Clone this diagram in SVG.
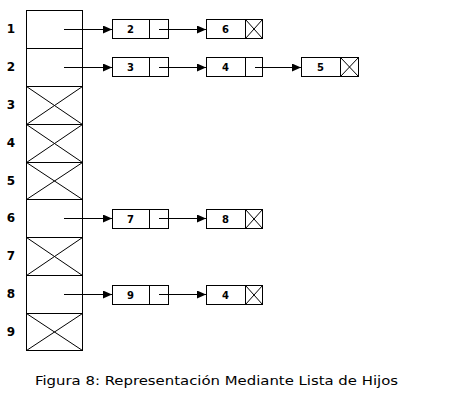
<svg xmlns="http://www.w3.org/2000/svg" width="461" height="406" viewBox="0 0 461 406">
<defs>
<marker id="ah" markerWidth="10" markerHeight="8" refX="9" refY="4" orient="auto" markerUnits="userSpaceOnUse">
<path d="M0,0 L9,4 L0,8 Z" fill="#000"/>
</marker>
<style>
.box{fill:#fff;stroke:#000;stroke-width:1}
.ln{stroke:#000;stroke-width:1;fill:none}
.conn{stroke:#000;stroke-width:1;fill:none;marker-end:url(#ah)}
.lbl{font-family:"DejaVu Sans",sans-serif;font-weight:bold;font-size:12px;fill:#000;text-anchor:middle;dominant-baseline:central}
.val{font-family:"DejaVu Sans",sans-serif;font-weight:bold;font-size:10px;fill:#000;text-anchor:middle;dominant-baseline:central}
.cap{font-family:"DejaVu Sans",sans-serif;font-size:13px;fill:#000}
</style>
</defs>
<rect width="461" height="406" fill="#fff"/>
<g id="array">
<rect class="box" x="26.5" y="10.5" width="56" height="340"/>
<path class="ln" d="M26.5,48.5H82.5M26.5,86.5H82.5M26.5,124.5H82.5M26.5,162.5H82.5M26.5,199.5H82.5M26.5,237.5H82.5M26.5,275.5H82.5M26.5,313.5H82.5"/>
<path class="ln" d="M26.5,86.5L82.5,124.5M82.5,86.5L26.5,124.5M26.5,124.5L82.5,162.5M82.5,124.5L26.5,162.5M26.5,162.5L82.5,199.5M82.5,162.5L26.5,199.5M26.5,237.5L82.5,275.5M82.5,237.5L26.5,275.5M26.5,313.5L82.5,350.5M82.5,313.5L26.5,350.5"/>
<text class="lbl" x="11" y="29">1</text>
<text class="lbl" x="11" y="67">2</text>
<text class="lbl" x="11" y="105">3</text>
<text class="lbl" x="11" y="143">4</text>
<text class="lbl" x="11" y="181">5</text>
<text class="lbl" x="11" y="218">6</text>
<text class="lbl" x="11" y="256">7</text>
<text class="lbl" x="11" y="294">8</text>
<text class="lbl" x="11" y="332">9</text>
</g>
<g id="n1a"><rect class="box" x="112.5" y="19.5" width="56" height="19"/><path class="ln" d="M149.5,19.5V38.5"/><text class="val" x="130.5" y="29">2</text></g>
<g id="n1b"><rect class="box" x="206.5" y="19.5" width="56" height="19"/><path class="ln" d="M245.5,19.5V38.5M245.5,19.5L262.5,38.5M262.5,19.5L245.5,38.5"/><text class="val" x="225.5" y="29">6</text></g>
<g id="n2a"><rect class="box" x="112.5" y="57.5" width="56" height="19"/><path class="ln" d="M149.5,57.5V76.5"/><text class="val" x="130.5" y="67">3</text></g>
<g id="n2b"><rect class="box" x="206.5" y="57.5" width="56" height="19"/><path class="ln" d="M245.5,57.5V76.5"/><text class="val" x="225.5" y="67">4</text></g>
<g id="n2c"><rect class="box" x="301.5" y="57.5" width="57" height="19"/><path class="ln" d="M340.5,57.5V76.5M340.5,57.5L358.5,76.5M358.5,57.5L340.5,76.5"/><text class="val" x="320.5" y="67">5</text></g>
<g id="n6a"><rect class="box" x="112.5" y="209.5" width="56" height="19"/><path class="ln" d="M149.5,209.5V228.5"/><text class="val" x="130.5" y="219">7</text></g>
<g id="n6b"><rect class="box" x="206.5" y="209.5" width="56" height="19"/><path class="ln" d="M245.5,209.5V228.5M245.5,209.5L262.5,228.5M262.5,209.5L245.5,228.5"/><text class="val" x="225.5" y="219">8</text></g>
<g id="n8a"><rect class="box" x="112.5" y="285.5" width="56" height="19"/><path class="ln" d="M149.5,285.5V304.5"/><text class="val" x="130.5" y="295">9</text></g>
<g id="n8b"><rect class="box" x="206.5" y="285.5" width="56" height="19"/><path class="ln" d="M245.5,285.5V304.5M245.5,285.5L262.5,304.5M262.5,285.5L245.5,304.5"/><text class="val" x="225.5" y="295">4</text></g>
<g id="connectors">
<path class="conn" d="M64,29.5H112"/>
<path class="conn" d="M159,29.5H206"/>
<path class="conn" d="M64,67.5H112"/>
<path class="conn" d="M159,67.5H206"/>
<path class="conn" d="M255,67.5H301"/>
<path class="conn" d="M64,218.5H112"/>
<path class="conn" d="M159,218.5H206"/>
<path class="conn" d="M64,294.5H112"/>
<path class="conn" d="M159,294.5H206"/>
</g>
<text class="cap" x="35" y="385" textLength="363" lengthAdjust="spacingAndGlyphs">Figura 8: Representación Mediante Lista de Hijos</text>
</svg>
